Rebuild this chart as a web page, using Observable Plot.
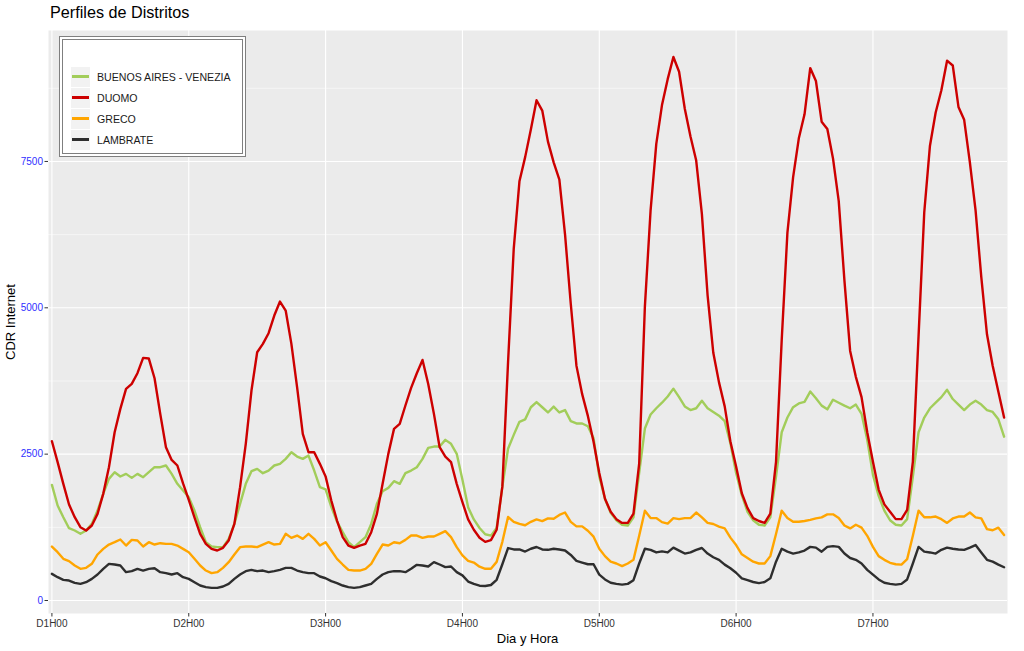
<!DOCTYPE html>
<html>
<head>
<meta charset="utf-8">
<script src="https://cdn.jsdelivr.net/npm/d3@7"></script>
<script src="https://cdn.jsdelivr.net/npm/@observablehq/plot@0.6"></script>
<style>
  body { margin: 0; background: #fff; font-family: "Liberation Sans", Arial, sans-serif; }
  #wrap { position: relative; width: 1024px; height: 651px; overflow: hidden; }
  #wrap svg { position: absolute; left: 0; top: 0; }
  .title { position: absolute; left: 50px; top: 4px; font-size: 16.2px; line-height: 16px; color: #000; white-space: nowrap; }
  .ytitle { position: absolute; left: 10px; top: 321.5px; font-size: 13px; line-height: 13px; color: #000; white-space: nowrap; transform: translate(-50%, -50%) rotate(-90deg); }
  .xtitle { position: absolute; left: 527.5px; top: 638px; font-size: 13px; line-height: 13px; color: #000; white-space: nowrap; transform: translate(-50%, -50%); }
  .legend { position: absolute; left: 59px; top: 36px; width: 187px; height: 121px; box-sizing: border-box; border: 1px solid #7f7f7f; background: #fff; }
  .legend .inner { position: absolute; left: 2px; top: 2px; right: 2px; bottom: 2px; border: 1px solid #7f7f7f; }
  .key { position: absolute; width: 19.5px; height: 20px; background: #f2f2f2; }
  .key span { position: absolute; left: 1.5px; right: 1.5px; top: 8.8px; height: 2.4px; }
  .ltext { position: absolute; font-size: 10.6px; line-height: 12px; color: #1a1a1a; white-space: nowrap; transform: translateY(-50%); }
</style>
</head>
<body>
<div id="wrap"></div>
<script>
// ---- Data (hourly values, D1H00 .. D7H23) ----
const seriesNames = ["BUENOS AIRES - VENEZIA", "DUOMO", "GRECO", "LAMBRATE"];
const seriesColors = ["#A2CD5A", "#CD0000", "#FFA500", "#2E2E2E"];
const dayLabels = ["D1H00", "D2H00", "D3H00", "D4H00", "D5H00", "D6H00", "D7H00"];
const yTicks = [0, 2500, 5000, 7500];
const yMinorTicks = [1250, 3750, 6250, 8750];

const buenosAires = [
  1975, 1622, 1423, 1235, 1196, 1139, 1196, 1309, 1537, 1822, 2078, 2192, 2118, 2163, 2095, 2163, 2106, 2192, 2277, 2277, 2306, 2163, 1993, 1879,
  1765, 1537, 1252, 996, 922, 911, 911, 1053, 1309, 1651, 1993, 2209, 2249, 2175, 2220, 2306, 2334, 2419, 2533, 2459, 2419, 2476, 2220, 1936,
  1900, 1600, 1350, 1167, 996, 911, 996, 1082, 1309, 1651, 1867, 1924, 2038, 1993, 2175, 2220, 2277, 2419, 2607, 2630, 2630, 2744, 2676, 2505,
  2063, 1591, 1385, 1238, 1132, 1108, 1238, 1945, 2593, 2829, 3053, 3094, 3301, 3389, 3301, 3212, 3312, 3212, 3253, 3065, 3024, 3024, 2976, 2770,
  2116, 1737, 1497, 1371, 1295, 1282, 1421, 2179, 2937, 3177, 3284, 3379, 3486, 3619, 3474, 3316, 3253, 3284, 3411, 3284, 3221, 3158, 3063, 2684,
  2179, 1800, 1516, 1371, 1295, 1282, 1421, 2116, 2874, 3126, 3303, 3366, 3392, 3569, 3455, 3329, 3265, 3430, 3379, 3329, 3284, 3347, 3190, 2747,
  2147, 1787, 1535, 1371, 1295, 1282, 1390, 2116, 2874, 3126, 3284, 3379, 3474, 3600, 3442, 3347, 3253, 3347, 3411, 3347, 3253, 3221, 3095, 2798
];
const duomo = [
  2721, 2363, 1993, 1640, 1423, 1252, 1196, 1281, 1480, 1822, 2277, 2875, 3273, 3615, 3700, 3883, 4144, 4133, 3797, 3188, 2619, 2402, 2306, 2000,
  1720, 1420, 1139, 968, 882, 854, 900, 1025, 1309, 1936, 2676, 3587, 4241, 4384, 4566, 4868, 5107, 4953, 4384, 3644, 2847, 2533, 2533, 2334,
  2120, 1708, 1366, 1082, 939, 900, 939, 968, 1167, 1480, 1993, 2505, 2932, 3017, 3331, 3632, 3883, 4110, 3700, 3188, 2619, 2459, 2363, 1993,
  1680, 1385, 1208, 1073, 1002, 1031, 1208, 1945, 4067, 6012, 7161, 7574, 8045, 8546, 8369, 7839, 7485, 7191, 6248, 5069, 4008, 3525, 3153, 2711,
  2179, 1737, 1516, 1390, 1326, 1326, 1484, 2337, 5021, 6663, 7800, 8463, 8906, 9285, 9032, 8400, 7927, 7516, 6600, 5211, 4232, 3726, 3316, 2716,
  2290, 1832, 1579, 1408, 1358, 1326, 1484, 2369, 4453, 6284, 7232, 7895, 8305, 9095, 8874, 8179, 8053, 7548, 6821, 5463, 4263, 3821, 3474, 2874,
  2370, 1895, 1642, 1516, 1390, 1390, 1547, 2369, 4516, 6632, 7769, 8337, 8716, 9221, 9139, 8432, 8211, 7484, 6663, 5527, 4548, 4011, 3568, 3126
];
const greco = [
  922, 825, 712, 672, 598, 541, 558, 626, 786, 882, 956, 996, 1042, 939, 1036, 1025, 922, 996, 956, 979, 968, 968, 939, 882,
  825, 712, 598, 512, 467, 484, 558, 655, 786, 911, 922, 922, 911, 956, 996, 956, 968, 1139, 1070, 1110, 1053, 1139, 1053, 939,
  996, 854, 712, 615, 524, 512, 512, 541, 626, 797, 956, 939, 996, 979, 1036, 1110, 1110, 1070, 1093, 1093, 1139, 1184, 1082, 911,
  770, 678, 648, 578, 542, 542, 660, 1002, 1426, 1344, 1308, 1285, 1344, 1385, 1356, 1403, 1397, 1462, 1503, 1344, 1267, 1267, 1191, 1090,
  884, 758, 663, 632, 587, 632, 695, 1105, 1535, 1408, 1408, 1339, 1314, 1408, 1390, 1408, 1408, 1503, 1421, 1326, 1307, 1263, 1232, 1074,
  947, 790, 726, 663, 632, 632, 758, 1137, 1535, 1408, 1345, 1345, 1358, 1377, 1402, 1421, 1472, 1472, 1408, 1282, 1232, 1295, 1244, 1105,
  916, 758, 695, 644, 619, 613, 707, 1105, 1535, 1421, 1421, 1434, 1390, 1326, 1402, 1434, 1434, 1503, 1421, 1402, 1219, 1200, 1244, 1118
];
const lambrate = [
  455, 398, 353, 341, 302, 285, 313, 370, 444, 541, 626, 615, 598, 484, 501, 541, 512, 541, 552, 484, 467, 444, 467, 398,
  370, 313, 256, 228, 216, 216, 239, 285, 370, 444, 501, 524, 501, 512, 484, 501, 524, 558, 558, 512, 484, 467, 467, 410,
  380, 330, 296, 256, 228, 216, 228, 256, 285, 370, 444, 484, 501, 501, 484, 541, 609, 598, 581, 655, 615, 570, 581, 484,
  430, 324, 283, 253, 247, 265, 354, 619, 896, 872, 872, 837, 884, 914, 872, 866, 884, 872, 855, 778, 678, 648, 619, 619,
  442, 360, 303, 284, 272, 284, 347, 632, 884, 865, 821, 840, 821, 903, 853, 802, 821, 865, 897, 802, 739, 695, 613, 550,
  474, 379, 347, 316, 297, 316, 379, 663, 884, 834, 802, 821, 853, 916, 903, 834, 916, 928, 916, 802, 726, 695, 632, 524,
  442, 360, 303, 284, 272, 284, 360, 632, 916, 834, 821, 802, 865, 903, 884, 872, 865, 903, 947, 821, 695, 663, 613, 568
];

// ---- Build tidy table ----
const seriesValues = [buenosAires, duomo, greco, lambrate];
const rows = [];
seriesNames.forEach((name, s) => {
  seriesValues[s].forEach((v, h) => rows.push({hour: h, value: v, district: name}));
});
const dayTicks = dayLabels.map((d, i) => i * 24);

const plot = Plot.plot({
  width: 1024,
  height: 651,
  marginLeft: 48,
  marginRight: 17,
  marginTop: 30,
  marginBottom: 38,
  style: {fontFamily: "'Liberation Sans', Arial, sans-serif", background: "transparent"},
  x: {type: "linear", domain: [-0.6, 167.6], axis: null},
  y: {type: "linear", domain: [-222, 9737], axis: null},
  color: {domain: seriesNames, range: seriesColors},
  marks: [
    Plot.frame({fill: "#EBEBEB", stroke: null}),
    Plot.ruleY(yMinorTicks, {stroke: "#fff", strokeWidth: 0.55}),
    Plot.ruleY(yTicks, {stroke: "#fff", strokeWidth: 1.1}),
    Plot.ruleX(dayTicks, {stroke: "#fff", strokeWidth: 1.1}),
    Plot.line(rows, {x: "hour", y: "value", z: "district", stroke: "district", strokeWidth: 2.4, strokeLinejoin: "round", curve: "linear"}),
    Plot.axisX({ticks: dayTicks, tickFormat: (d) => dayLabels[Math.round(d / 24)], tickSize: 3.5, tickPadding: 3, fontSize: 10, stroke: "#333", fill: "#333", strokeOpacity: 1, label: null}),
    Plot.axisY({ticks: yTicks, tickFormat: (d) => String(d), tickSize: 3.5, tickPadding: 2, fontSize: 10, stroke: "#333", fill: "#2F2FFF", strokeOpacity: 1, label: null})
  ]
});

const wrap = document.getElementById("wrap");
wrap.appendChild(plot);

function addDiv(cls, text, style) {
  const d = document.createElement("div");
  d.className = cls;
  if (text != null) d.textContent = text;
  if (style) Object.assign(d.style, style);
  wrap.appendChild(d);
  return d;
}
addDiv("title", "Perfiles de Distritos");
addDiv("ytitle", "CDR Internet");
addDiv("xtitle", "Dia y Hora");

const legend = addDiv("legend", null);
const inner = document.createElement("div");
inner.className = "inner";
legend.appendChild(inner);
seriesNames.forEach((name, i) => {
  const top = 66.5 + 21 * i;
  const key = addDiv("key", null, {left: "70.5px", top: top + "px"});
  const line = document.createElement("span");
  line.style.background = seriesColors[i];
  key.appendChild(line);
  addDiv("ltext", name, {left: "97px", top: (top + 10.3) + "px"});
});
</script>
</body>
</html>
